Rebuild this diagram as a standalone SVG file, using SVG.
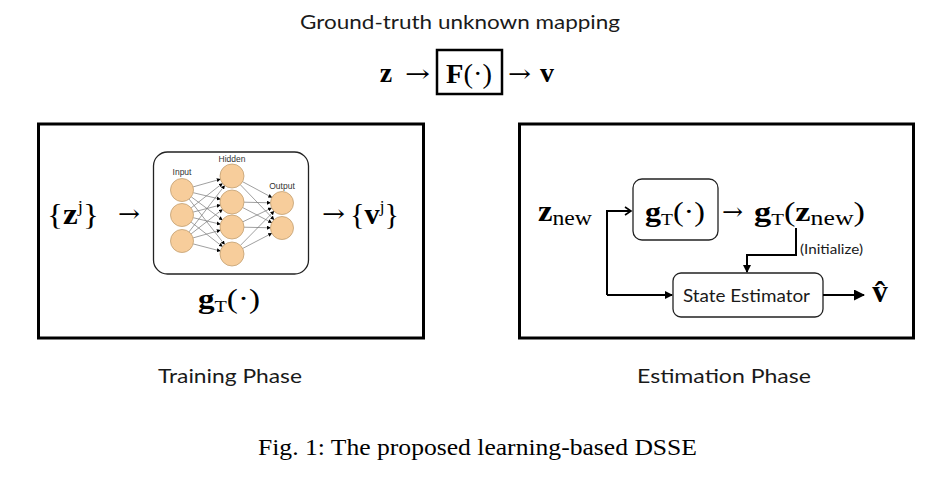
<svg xmlns="http://www.w3.org/2000/svg" width="947" height="493" viewBox="0 0 947 493">
<style>
.lbl{font-family:Lato,"Liberation Sans",sans-serif;fill:#1a1a1a}
.m{font-family:"Liberation Serif",serif;fill:#000}
.b{font-weight:bold}
.ar{font-family:"DejaVu Serif",serif;font-size:24px;fill:#000}
.panel{fill:none;stroke:#000;stroke-width:3}
.rbox{fill:#fff;stroke:#222;stroke-width:1.3}
.neu{fill:#f7cd9b;stroke:#c29f72;stroke-width:0.8}
.syn{stroke:#777;stroke-width:0.7;fill:none}
.con{fill:none;stroke:#000;stroke-width:2}
.nnl{font-family:"Liberation Sans",sans-serif;font-size:8.5px;fill:#333;text-anchor:middle}
</style>
<defs>
<marker id="open" markerUnits="userSpaceOnUse" markerWidth="10" markerHeight="12" refX="7" refY="5" orient="auto" viewBox="0 0 10 10">
<path d="M1,1 L7,5 L1,9" fill="none" stroke="#000" stroke-width="1.6"/>
</marker>
<marker id="fill" markerUnits="userSpaceOnUse" markerWidth="8" markerHeight="8" refX="7" refY="4" orient="auto" viewBox="0 0 8 8">
<path d="M0,0 L8,4 L0,8 z" fill="#000"/>
</marker>
<marker id="big" markerUnits="userSpaceOnUse" markerWidth="11" markerHeight="11" refX="10" refY="5.5" orient="auto" viewBox="0 0 11 11">
<path d="M0,0 L11,5.5 L0,11 z" fill="#000"/>
</marker>
<marker id="tiny" markerUnits="userSpaceOnUse" markerWidth="4" markerHeight="4" refX="3.6" refY="2" orient="auto" viewBox="0 0 4 4">
<path d="M0,0 L4,2 L0,4 z" fill="#000"/>
</marker>
</defs>

<g id="title">
<text class="lbl" x="300" y="29" font-size="20" textLength="320" lengthAdjust="spacingAndGlyphs">Ground-truth unknown mapping</text>
</g>

<g id="ground-truth-formula">
<text class="m b" x="386" y="82" font-size="28" text-anchor="middle">z</text>
<text class="ar" x="405" y="82" textLength="25" lengthAdjust="spacingAndGlyphs">→</text>
<rect x="437" y="50" width="65" height="44" fill="none" stroke="#000" stroke-width="2.5"/>
<text class="m" x="446" y="83" font-size="27" textLength="46" lengthAdjust="spacingAndGlyphs"><tspan class="b">F</tspan>(·)</text>
<text class="ar" x="508" y="82" textLength="23" lengthAdjust="spacingAndGlyphs">→</text>
<text class="m b" x="547" y="82" font-size="28" text-anchor="middle">v</text>
</g>

<g id="training-panel">
<rect class="panel" x="38.5" y="124" width="385" height="214"/>
<text class="m" x="47" y="224" font-size="30" textLength="52" lengthAdjust="spacingAndGlyphs">{<tspan class="b">z</tspan><tspan font-size="17" dy="-12">j</tspan><tspan dy="12">}</tspan></text>
<text class="ar" x="118" y="222" textLength="22" lengthAdjust="spacingAndGlyphs">→</text>
<text class="ar" x="322" y="222" textLength="23" lengthAdjust="spacingAndGlyphs">→</text>
<text class="m" x="350" y="224" font-size="30" textLength="49" lengthAdjust="spacingAndGlyphs">{<tspan class="b">v</tspan><tspan font-size="17" dy="-12">j</tspan><tspan dy="12">}</tspan></text>
<text class="m" x="198" y="308" font-size="28" textLength="62" lengthAdjust="spacingAndGlyphs"><tspan class="b">g</tspan><tspan font-size="17" dy="4">T</tspan><tspan dy="-4">(·)</tspan></text>
</g>

<g id="neural-network">
<rect class="rbox" x="153.5" y="152" width="155" height="122" rx="14"/>
<text class="nnl" x="182" y="175">Input</text>
<text class="nnl" x="232" y="162">Hidden</text>
<text class="nnl" x="282" y="189">Output</text>
<g marker-end="url(#tiny)">
<line class="syn" x1="193.1" y1="186.9" x2="220.4" y2="179.2"/>
<line class="syn" x1="193.2" y1="192.7" x2="220.3" y2="199.2"/>
<line class="syn" x1="191.2" y1="196.8" x2="222.4" y2="219.9"/>
<line class="syn" x1="189.1" y1="199.1" x2="224.6" y2="244.5"/>
<line class="syn" x1="191.1" y1="207.9" x2="222.5" y2="183.4"/>
<line class="syn" x1="193.1" y1="212.1" x2="220.4" y2="205.0"/>
<line class="syn" x1="193.2" y1="217.7" x2="220.3" y2="224.2"/>
<line class="syn" x1="191.1" y1="222.1" x2="222.5" y2="246.6"/>
<line class="syn" x1="189.0" y1="231.9" x2="224.7" y2="185.5"/>
<line class="syn" x1="191.1" y1="233.9" x2="222.5" y2="209.4"/>
<line class="syn" x1="193.1" y1="237.9" x2="220.4" y2="230.2"/>
<line class="syn" x1="193.1" y1="243.9" x2="220.4" y2="251.0"/>
<line class="syn" x1="242.6" y1="181.7" x2="271.9" y2="197.5"/>
<line class="syn" x1="240.3" y1="184.7" x2="274.0" y2="219.7"/>
<line class="syn" x1="244" y1="202.2" x2="270.5" y2="202.8"/>
<line class="syn" x1="242.6" y1="207.5" x2="271.8" y2="222.7"/>
<line class="syn" x1="242.8" y1="221.8" x2="271.6" y2="208.0"/>
<line class="syn" x1="244" y1="227.2" x2="270.5" y2="227.8"/>
<line class="syn" x1="240.4" y1="245.4" x2="274.0" y2="211.2"/>
<line class="syn" x1="242.6" y1="248.5" x2="271.8" y2="233.3"/>
</g>
<circle class="neu" cx="182" cy="190" r="11.5"/>
<circle class="neu" cx="182" cy="215" r="11.5"/>
<circle class="neu" cx="182" cy="241" r="11.5"/>
<circle class="neu" cx="232" cy="176" r="12"/>
<circle class="neu" cx="232" cy="202" r="12"/>
<circle class="neu" cx="232" cy="227" r="12"/>
<circle class="neu" cx="232" cy="254" r="12"/>
<circle class="neu" cx="282" cy="203" r="11.5"/>
<circle class="neu" cx="282" cy="228" r="11.5"/>
</g>

<g id="estimation-panel">
<rect class="panel" x="519.5" y="124" width="394" height="214"/>
<text class="m" x="538" y="221" font-size="29" textLength="54" lengthAdjust="spacingAndGlyphs"><tspan class="b">z</tspan><tspan font-size="21" dy="4">new</tspan></text>
<text class="ar" x="722" y="220" textLength="21" lengthAdjust="spacingAndGlyphs">→</text>
<text class="m" x="754" y="221" font-size="28" textLength="111" lengthAdjust="spacingAndGlyphs"><tspan class="b">g</tspan><tspan font-size="17" dy="4">T</tspan><tspan dy="-4">(</tspan><tspan class="b">z</tspan><tspan font-size="21" dy="4">new</tspan><tspan dy="-4">)</tspan></text>
<text class="lbl" x="800" y="254" font-size="13" textLength="63" lengthAdjust="spacingAndGlyphs">(Initialize)</text>
<text class="m b" x="880" y="302" font-size="31" text-anchor="middle">v̂</text>
</g>

<g id="gT-box">
<rect class="rbox" x="633" y="179" width="85" height="61" rx="9"/>
<text class="m" x="645" y="221" font-size="28" textLength="60" lengthAdjust="spacingAndGlyphs"><tspan class="b">g</tspan><tspan font-size="17" dy="4">T</tspan><tspan dy="-4">(·)</tspan></text>
</g>

<g id="state-estimator">
<rect class="rbox" x="673" y="273" width="150" height="44" rx="8"/>
<text class="lbl" x="683" y="302" font-size="18" textLength="127" lengthAdjust="spacingAndGlyphs">State Estimator</text>
</g>

<g id="connectors">
<path class="con" d="M607 295 V211 H631" marker-end="url(#open)"/>
<path class="con" d="M607 295 H672" marker-end="url(#fill)"/>
<path class="con" d="M796 228 V255 H747 V272" marker-end="url(#fill)"/>
<path class="con" d="M823 295 H864" stroke-width="3" marker-end="url(#big)"/>
</g>

<g id="phase-labels">
<text class="lbl" x="158" y="383" font-size="20" textLength="144" lengthAdjust="spacingAndGlyphs">Training Phase</text>
<text class="lbl" x="637" y="383" font-size="20" textLength="174" lengthAdjust="spacingAndGlyphs">Estimation Phase</text>
</g>

<g id="caption">
<text x="258" y="455" font-family="'Liberation Serif', serif" font-size="24" textLength="439" lengthAdjust="spacingAndGlyphs" fill="#000">Fig. 1: The proposed learning-based DSSE</text>
</g>
</svg>
